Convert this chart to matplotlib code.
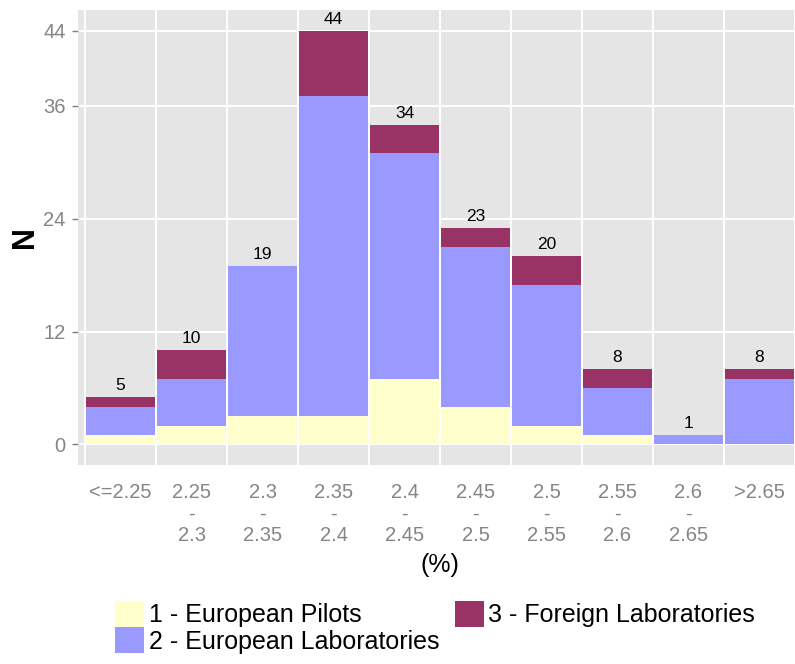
import matplotlib
matplotlib.use("Agg")
import matplotlib.pyplot as plt
import numpy as np

categories = ["<=2.25", "2.25\n-\n2.3", "2.3\n-\n2.35", "2.35\n-\n2.4", "2.4\n-\n2.45",
              "2.45\n-\n2.5", "2.5\n-\n2.55", "2.55\n-\n2.6", "2.6\n-\n2.65", ">2.65"]
pilots = [1, 2, 3, 3, 7, 4, 2, 1, 0, 0]
eu_labs = [3, 5, 16, 34, 24, 17, 15, 5, 1, 7]
foreign = [1, 3, 0, 7, 3, 2, 3, 2, 0, 1]
series_names = ["1 - European Pilots", "2 - European Laboratories", "3 - Foreign Laboratories"]
colors = ["#FFFFCC", "#9999FF", "#993366"]
yticks = [0, 12, 24, 36, 44]

plt.rcParams['font.family'] = ['Liberation Sans', 'DejaVu Sans']

W, H = 795, 664
fig = plt.figure(figsize=(W / 100, H / 100), dpi=100)
ax = fig.add_axes([78 / W, 1 - 465 / H, (802 - 78) / W, (465 - 10) / H])
ax.set_facecolor("#E5E5E5")
for s in ax.spines.values():
    s.set_visible(False)

x = np.arange(1, len(categories) + 1)
p = np.array(pilots)
l = np.array(eu_labs)
f = np.array(foreign)
bw = 0.975
b1 = ax.bar(x, p, width=bw, color=colors[0], zorder=2, label=series_names[0])
b2 = ax.bar(x, l, bottom=p, width=bw, color=colors[1], zorder=2, label=series_names[1])
b3 = ax.bar(x, f, bottom=p + l, width=bw, color=colors[2], zorder=2, label=series_names[2])

totals = p + l + f
for xi, t in zip(x, totals):
    ax.annotate(str(t), (xi, t), xytext=(0, 5), textcoords="offset points",
                ha="center", va="baseline", fontsize=12.5, color="black", zorder=3)

ax.set_xlim(0.4, 10.6)
ax.set_ylim(-2.2, 46.2)

# grid
for yt in yticks:
    ax.axhline(yt, color="white", lw=1.4, zorder=1)
for xb in np.arange(0.5, 11.0, 1.0):
    ax.axvline(xb, color="white", lw=1.4, zorder=1)

ax.set_yticks(yticks)
ax.set_yticklabels([str(v) for v in yticks])
ax.set_xticks(x)
ax.set_xticklabels(categories, linespacing=1.15)
ax.tick_params(axis="y", length=4, width=1, color="#7f7f7f", labelcolor="#858585",
               labelsize=14.5, pad=5)
ax.tick_params(axis="x", length=0, labelcolor="#858585", labelsize=14.5, pad=13)
for lab in ax.get_xticklabels():
    lab.set_va("top")

ax.set_xlabel("(%)", fontsize=18, labelpad=6)
fig.text(25 / W, 1 - 237 / H, "N", rotation=90, ha="center", va="center",
         fontsize=22, fontweight="bold")

leg = fig.legend(handles=[b1, b2, b3], labels=series_names, ncol=2,
                 loc="upper left", bbox_to_anchor=(115 / W, 1 - 601 / H),
                 frameon=False, fontsize=18, handlelength=1.16, handleheight=1.2,
                 handletextpad=0.2, labelspacing=0.0, columnspacing=0.6,
                 borderpad=0, borderaxespad=0)

fig.savefig("out.png", dpi=100)
